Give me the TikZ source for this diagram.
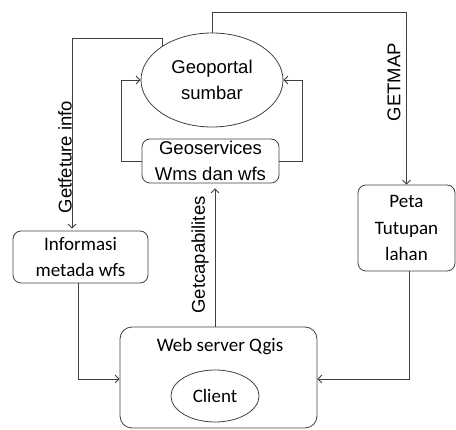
\documentclass[tikz,border=0pt]{standalone}
\usepackage{fontspec}
\setmainfont{Liberation Sans}
\newfontfamily\calfont{Carlito}
\usetikzlibrary{arrows.meta,calc,shapes.geometric}
\begin{document}
\begin{tikzpicture}[x=1pt,y=-1pt,
  line/.style={draw=black!75, line width=0.8pt},
  arr/.style={line, -{Straight Barb[length=4pt,width=8pt]}},
  box/.style={line, rounded corners=8pt, inner sep=0pt, align=center},
  ar/.style={font=\fontsize{18.5}{26}\selectfont},
  ca/.style={font=\calfont\fontsize{19}{26.5}\selectfont},
]
\useasboundingbox (0,0) rectangle (456,430);
% nodes
\node[ellipse, line, minimum width=142pt, minimum height=94pt, inner sep=0pt, align=center, ar] (geo) at (212,80) {Geoportal\\sumbar};
\node[box, minimum width=137pt, minimum height=44pt, inner ysep=-2pt, ar] (gs) at (210.5,161) {Geoservices\\Wms dan wfs};
\node[box, minimum width=135pt, minimum height=52pt, ca] (info) at (80.5,257) {Informasi\\metada wfs};
\node[box, minimum width=97pt, minimum height=86pt, ca] (peta) at (406.5,228) {Peta\\Tutupan\\lahan};
\node[box, rounded corners=12pt, minimum width=197pt, minimum height=101pt] (web) at (218.5,377.5) {};
\node[ca, anchor=base, inner sep=0pt] (webl) at (220,352) {Web server Qgis};
\node[ellipse, line, minimum width=88pt, minimum height=52pt, inner sep=0pt, ca] (client) at (215,396) {Client};
% labels
\node[ar, rotate=90, inner sep=0pt] (lgetmap) at (394,82) {GETMAP};
\node[ar, rotate=90, inner sep=0pt] (lfeat) at (65,157) {Getfeture info};
\node[ar, rotate=90, inner sep=0pt] (lcap) at (200,255) {Getcapabilites};
% connectors
\draw[arr] (geo.north) -- ++(0,-20) -| (peta.north);
\coordinate (ftop) at ($(info.north)+(-8.5,0)$);
\draw[arr] (geo.146.6) |- (ftop |- 0,38) -- ($(ftop)+(0,-2)$);
\draw[arr] (gs.west) -- ++(-20,0) |- (geo.west);
\draw[arr] (gs.east) -- ++(23,0) |- (geo.east);
\coordinate (cb) at ($(web.north)+(-3.5,0)$);
\draw[arr] (cb) -- ($(cb |- gs.south)+(0,5)$);
\draw[arr] ($(info.south)+(-2.5,0)$) |- ($(web.west)+(0,1.5)$);
\draw[arr] ($(peta.south)+(2.5,0)$) |- ($(web.east)+(0,1.5)$);
\end{tikzpicture}
\end{document}
